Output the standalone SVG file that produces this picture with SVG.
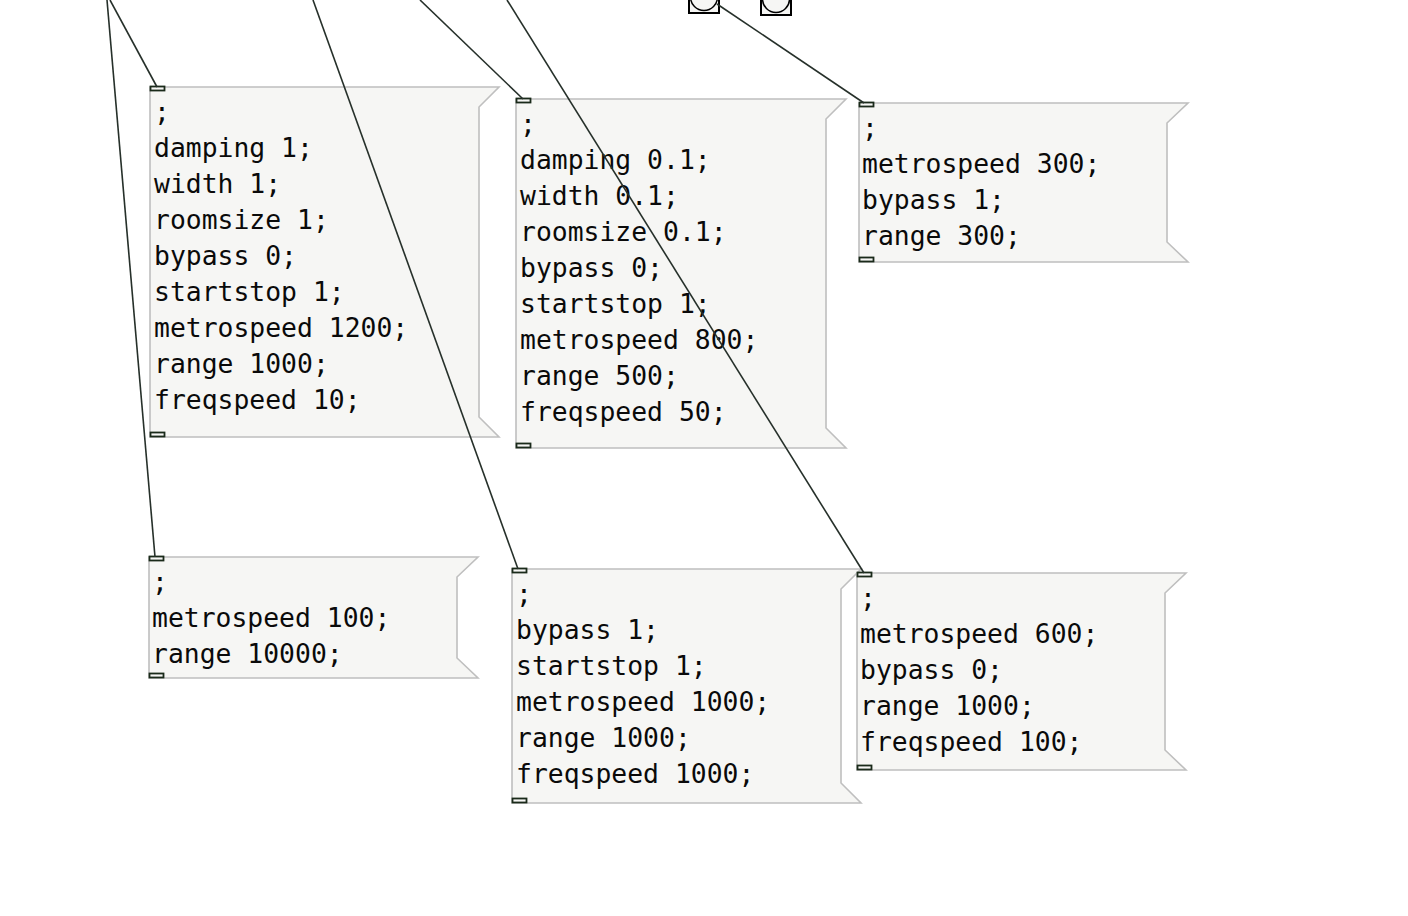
<svg xmlns="http://www.w3.org/2000/svg" width="1408" height="916" viewBox="0 0 1408 916">
<style>
.msg{fill:#f6f6f4;stroke:#bfbfbf;stroke-width:1.6}
.io{fill:#f6f6f4;stroke:#1a2a1a;stroke-width:1.8}
.txt{font-family:"DejaVu Sans Mono","Liberation Mono",monospace;font-size:26.4px;fill:#0a0a0a}
.cord{stroke:#26302a;stroke-width:1.6;fill:none}
.bng{fill:#f6f6f4;stroke:#000;stroke-width:2}
</style>
<rect width="1408" height="916" fill="#fff"/>
<g id="bang1"><rect class="bng" x="689" y="-18" width="30" height="31"/><circle cx="704" cy="-3" r="13.5" fill="none" stroke="#000" stroke-width="1.5"/></g>
<g id="bang2"><rect class="bng" x="761" y="-16" width="30" height="31"/><circle cx="776" cy="-1" r="13.5" fill="none" stroke="#000" stroke-width="1.5"/></g>
<g id="msg1">
<path class="msg" d="M150,87H499L479,107V417L499,437H150Z"/>
<rect class="io" x="150.5" y="86.5" width="14" height="4"/><rect class="io" x="150.5" y="432.5" width="14" height="4"/>
<text class="txt" x="154" y="121"><tspan x="154">;</tspan><tspan x="154" dy="36">damping 1;</tspan><tspan x="154" dy="36">width 1;</tspan><tspan x="154" dy="36">roomsize 1;</tspan><tspan x="154" dy="36">bypass 0;</tspan><tspan x="154" dy="36">startstop 1;</tspan><tspan x="154" dy="36">metrospeed 1200;</tspan><tspan x="154" dy="36">range 1000;</tspan><tspan x="154" dy="36">freqspeed 10;</tspan></text>
</g>
<g id="msg2">
<path class="msg" d="M516,99H846L826,119V428L846,448H516Z"/>
<rect class="io" x="516.5" y="98.5" width="14" height="4"/><rect class="io" x="516.5" y="443.5" width="14" height="4"/>
<text class="txt" x="520" y="133"><tspan x="520">;</tspan><tspan x="520" dy="36">damping 0.1;</tspan><tspan x="520" dy="36">width 0.1;</tspan><tspan x="520" dy="36">roomsize 0.1;</tspan><tspan x="520" dy="36">bypass 0;</tspan><tspan x="520" dy="36">startstop 1;</tspan><tspan x="520" dy="36">metrospeed 800;</tspan><tspan x="520" dy="36">range 500;</tspan><tspan x="520" dy="36">freqspeed 50;</tspan></text>
</g>
<g id="msg3">
<path class="msg" d="M859,103H1188L1167,123V242L1188,262H859Z"/>
<rect class="io" x="859.5" y="102.5" width="14" height="4"/><rect class="io" x="859.5" y="257.5" width="14" height="4"/>
<text class="txt" x="862" y="137"><tspan x="862">;</tspan><tspan x="862" dy="36">metrospeed 300;</tspan><tspan x="862" dy="36">bypass 1;</tspan><tspan x="862" dy="36">range 300;</tspan></text>
</g>
<g id="msg4">
<path class="msg" d="M149,557H478L457,577V658L478,678H149Z"/>
<rect class="io" x="149.5" y="556.5" width="14" height="4"/><rect class="io" x="149.5" y="673.5" width="14" height="4"/>
<text class="txt" x="152" y="591"><tspan x="152">;</tspan><tspan x="152" dy="36">metrospeed 100;</tspan><tspan x="152" dy="36">range 10000;</tspan></text>
</g>
<g id="msg5">
<path class="msg" d="M512,569H861L841,589V783L861,803H512Z"/>
<rect class="io" x="512.5" y="568.5" width="14" height="4"/><rect class="io" x="512.5" y="798.5" width="14" height="4"/>
<text class="txt" x="516" y="603"><tspan x="516">;</tspan><tspan x="516" dy="36">bypass 1;</tspan><tspan x="516" dy="36">startstop 1;</tspan><tspan x="516" dy="36">metrospeed 1000;</tspan><tspan x="516" dy="36">range 1000;</tspan><tspan x="516" dy="36">freqspeed 1000;</tspan></text>
</g>
<g id="msg6">
<path class="msg" d="M857,573H1186L1165,593V750L1186,770H857Z"/>
<rect class="io" x="857.5" y="572.5" width="14" height="4"/><rect class="io" x="857.5" y="765.5" width="14" height="4"/>
<text class="txt" x="860" y="607"><tspan x="860">;</tspan><tspan x="860" dy="36">metrospeed 600;</tspan><tspan x="860" dy="36">bypass 0;</tspan><tspan x="860" dy="36">range 1000;</tspan><tspan x="860" dy="36">freqspeed 100;</tspan></text>
</g>
<g id="connectors">
<line class="cord" x1="110" y1="0" x2="157" y2="87"/>
<line class="cord" x1="107" y1="0" x2="155" y2="557"/>
<line class="cord" x1="313" y1="0" x2="518" y2="569"/>
<line class="cord" x1="420" y1="0" x2="523" y2="99"/>
<line class="cord" x1="507" y1="0" x2="864" y2="573"/>
<line class="cord" x1="717" y1="4" x2="864" y2="103"/>
</g>
</svg>
